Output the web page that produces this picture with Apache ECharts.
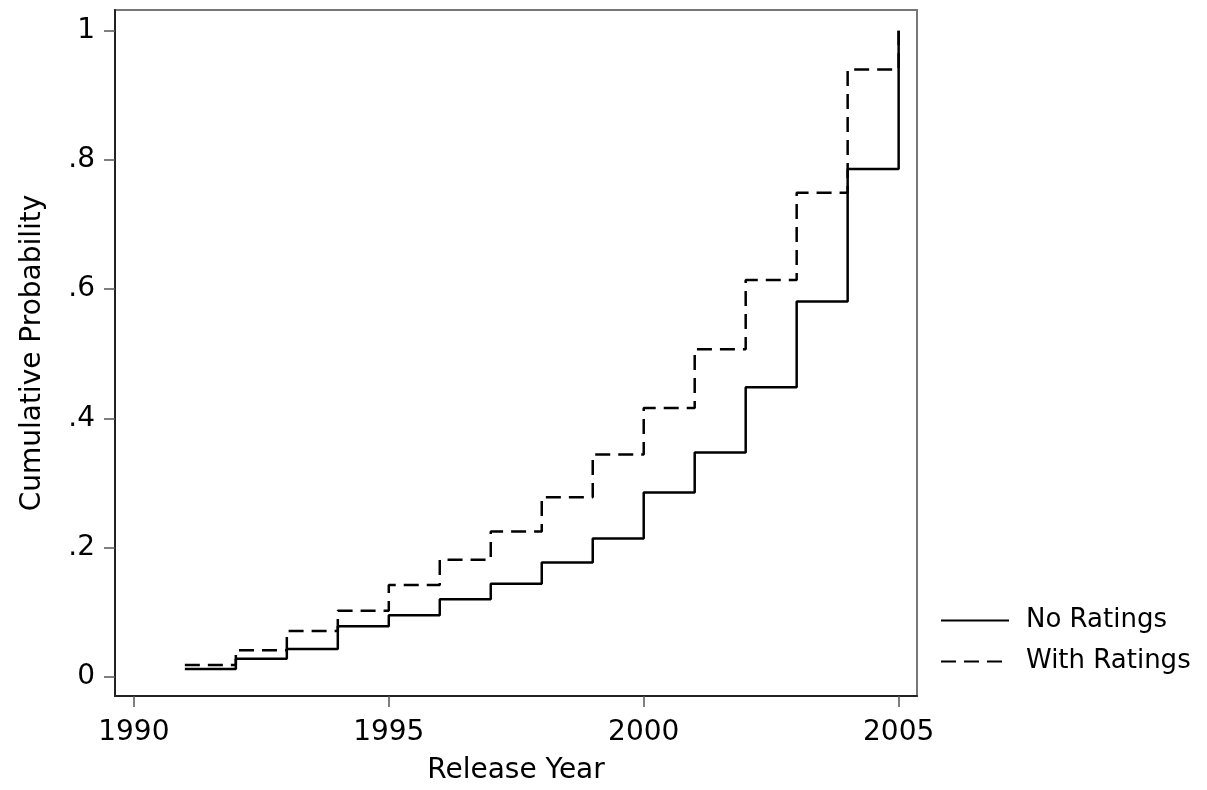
<!DOCTYPE html>
<html>
<head>
<meta charset="utf-8">
<script src="https://cdn.jsdelivr.net/npm/echarts@6/dist/echarts.min.js"></script>
<style>
html,body{margin:0;padding:0;background:#fff;}
#chart{width:1207px;height:790px;}
</style>
</head>
<body>
<div id="chart"></div>
<script>
const years = [1991,1992,1993,1994,1995,1996,1997,1998,1999,2000,2001,2002,2003,2004,2005];
const noRatings = [0.012,0.028,0.043,0.078,0.095,0.120,0.144,0.177,0.214,0.285,0.347,0.448,0.581,0.786,1.0];
const withRatings = [0.018,0.041,0.071,0.102,0.142,0.181,0.225,0.278,0.344,0.416,0.507,0.614,0.749,0.940,1.0];
const xTicks = [1990,1995,2000,2005];
const yTicks = [0,0.2,0.4,0.6,0.8,1];
const yTickLabels = ['0','.2','.4','.6','.8','1'];
const seriesNames = ['No Ratings','With Ratings'];

const FONT = 'DejaVu Sans';
const chart = echarts.init(document.getElementById('chart'), null, {renderer:'canvas'});
chart.setOption({
  animation:false,
  backgroundColor:'#fff',
  grid:{left:115,right:290,top:10,bottom:93,show:true,borderColor:'#777',borderWidth:2,backgroundColor:'#fff'},
  xAxis:{
    type:'value', min:1989.63, max:2005.36,
    name:'Release Year', nameLocation:'middle', nameGap:61,
    nameTextStyle:{fontFamily:FONT,fontSize:28,color:'#000'},
    axisLine:{show:true,onZero:false,lineStyle:{color:'#222',width:2}},
    axisTick:{show:true,customValues:xTicks,length:11,lineStyle:{color:'#555',width:1.5}},
    axisLabel:{customValues:xTicks,margin:23,fontFamily:FONT,fontSize:28,color:'#000',formatter:v=>String(Math.round(v))},
    splitLine:{show:false}
  },
  yAxis:{
    type:'value', min:-0.0298, max:1.032,
    name:'Cumulative Probability', nameLocation:'middle', nameGap:68, nameRotate:90,
    nameTextStyle:{fontFamily:FONT,fontSize:28,color:'#000'},
    axisLine:{show:true,onZero:false,lineStyle:{color:'#222',width:2}},
    axisTick:{show:true,customValues:yTicks,length:11,lineStyle:{color:'#555',width:1.5}},
    axisLabel:{customValues:yTicks,margin:20,fontFamily:FONT,fontSize:28,color:'#000',
      formatter:v=>{const i=yTicks.findIndex(t=>Math.abs(t-v)<1e-6);return i>=0?yTickLabels[i]:'';}},
    splitLine:{show:false}
  },
  legend:{
    orient:'vertical', left:940, top:606, padding:0, itemWidth:68, itemHeight:14, itemGap:12,
    data:seriesNames,
    itemStyle:{opacity:0},
    textStyle:{fontFamily:FONT,fontSize:26,lineHeight:29,color:'#000',padding:[0,0,0,12]}
  },
  series:[
    {name:seriesNames[0],type:'line',step:'end',symbol:'none',
     data:years.map((y,i)=>[y,noRatings[i]]),
     lineStyle:{color:'#000',width:2.5,type:'solid'},itemStyle:{color:'#000'},z:3},
    {name:seriesNames[1],type:'line',step:'end',symbol:'none',
     data:years.map((y,i)=>[y,withRatings[i]]),
     lineStyle:{color:'#000',width:2.5,type:[15,8]},itemStyle:{color:'#000'},z:2}
  ]
});
</script>
</body>
</html>
